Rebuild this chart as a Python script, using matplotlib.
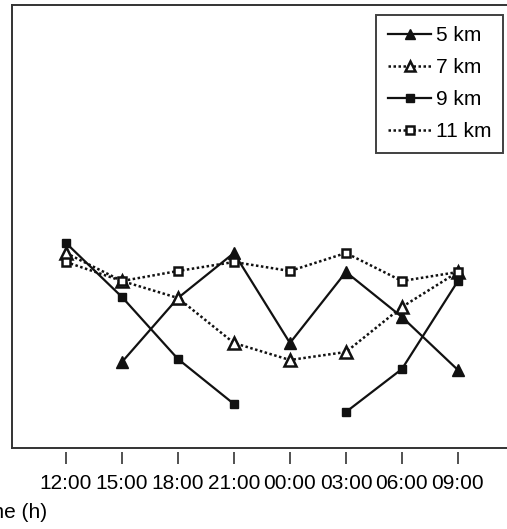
import numpy as np
import matplotlib.pyplot as plt

plt.rcParams.update({
    "font.family": ["Liberation Sans", "DejaVu Sans"],
    "font.size": 15,
})

# data (arbitrary vertical units; nan = no value)
times = ["12:00", "15:00", "18:00", "21:00", "00:00", "03:00", "06:00", "09:00"]
km5 = [np.nan, 8.6, 15.0, 19.5, 10.5, 17.6, 13.1, 7.8]
km7 = [19.5, 16.7, 15.0, 10.5, 8.8, 9.6, 14.1, 17.6]
km9 = [20.5, 15.1, 8.9, 4.4, np.nan, 3.6, 7.9, 16.7]
km11 = [18.6, 16.7, 17.7, 18.6, 17.7, 19.5, 16.7, 17.6]

INK = "#111111"
DOT = (0, (1.0, 1.0))

fig = plt.figure(figsize=(5.07, 5.29), dpi=100)
ax = fig.add_axes([12 / 507, 81 / 529, 498 / 507, 443 / 529])

x = np.arange(len(times))
ax.plot(x, km5, color=INK, lw=1.6, marker="^", ms=8, mfc=INK, mec=INK,
        label="5 km")
ax.plot(x, km7, color=INK, lw=1.8, ls=DOT, marker="^", ms=8, mfc="white",
        mec=INK, mew=1.8, label="7 km")
ax.plot(x, km9, color=INK, lw=1.6, marker="s", ms=6.4, mfc=INK, mec=INK,
        label="9 km")
ax.plot(x, km11, color=INK, lw=1.8, ls=DOT, marker="s", ms=6.4, mfc="white",
        mec=INK, mew=1.8, label="11 km")

ax.set_xlim(-0.964, 7.93)
ax.set_ylim(0, 44.3)
ax.set_xticks(x)
ax.set_xticklabels(times)
ax.set_yticks([])

for s in ("left", "top", "right"):
    ax.spines[s].set_linewidth(1.4)
    ax.spines[s].set_color("#333333")
# ticks sit a little below the box
ax.spines["bottom"].set_position(("outward", 3))
ax.spines["bottom"].set_visible(False)
ax.plot([0, 1], [0, 0], transform=ax.transAxes, color="#333333", lw=1.4,
        clip_on=False)
ax.tick_params(axis="x", direction="out", length=8.6, width=1.1,
               color="#222222", pad=7, labelsize=15)

leg = ax.legend(loc="upper right", bbox_to_anchor=(503 / 507, 1 - 15 / 529),
                bbox_transform=fig.transFigure, borderaxespad=0,
                fancybox=False, edgecolor=INK, fontsize=15,
                handlelength=2.1, handletextpad=0.22, labelspacing=0.62,
                borderpad=0.55, markerscale=0.85)
leg.get_frame().set_linewidth(1.4)

fig.text(-30 / 507, 1 - 512 / 529, "Time (h)", fontsize=15, ha="left",
         va="center")

fig.savefig("out.png", dpi=100)
